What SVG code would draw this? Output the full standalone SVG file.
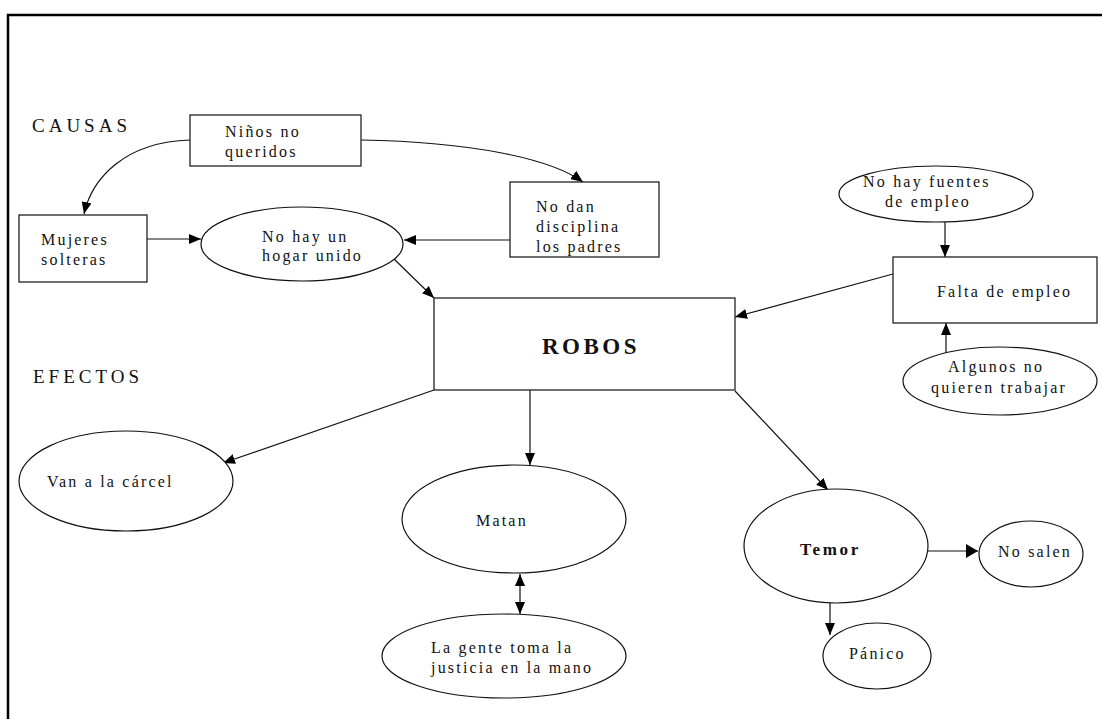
<svg xmlns="http://www.w3.org/2000/svg" width="1102" height="719" viewBox="0 0 1102 719">
  <style>
    .box { fill: #fff; stroke: #222; stroke-width: 1.3; }
    .oval { fill: #fff; stroke: #111; stroke-width: 1.2; }
    .lbl { font-family: "Liberation Serif", "Times New Roman", serif; font-size: 16px; letter-spacing: 2.2px; fill: #111; }
    .bold { font-weight: bold; }
    .head { font-family: "Liberation Serif", "Times New Roman", serif; font-size: 19px; letter-spacing: 4px; fill: #111; }
    .link { fill: none; stroke: #111; stroke-width: 1.2; }
  </style>
  <defs>
    <marker id="arrow" viewBox="0 0 12 10" refX="12" refY="5" markerWidth="12" markerHeight="10" markerUnits="userSpaceOnUse" orient="auto-start-reverse">
      <path d="M0,0 L12,5 L0,10 z" fill="#000"/>
    </marker>
    <marker id="arrowBig" viewBox="0 0 12 14" refX="12" refY="7" markerWidth="12" markerHeight="16" markerUnits="userSpaceOnUse" orient="auto">
      <path d="M0,0 L12,7 L0,14 z" fill="#000"/>
    </marker>
  </defs>
  <rect width="1102" height="719" fill="#fff"/>

  <!-- page frame -->
  <path d="M8,719 L8,15 L1102,15" fill="none" stroke="#000" stroke-width="2.5"/>

  <!-- section headings -->
  <text class="head" x="32" y="132">CAUSAS</text>
  <text class="head" x="33" y="383">EFECTOS</text>

  <!-- connectors -->
  <g id="connectors">
    <path class="link" d="M190,140 C125,142 92,178 84,214" marker-end="url(#arrow)"/>
    <path class="link" d="M361,140 C470,142 550,158 583,182" marker-end="url(#arrow)"/>
    <path class="link" d="M147,239 L201,239" marker-end="url(#arrow)"/>
    <path class="link" d="M510,240 L404,240" marker-end="url(#arrow)"/>
    <path class="link" d="M392,257 L434,298" marker-end="url(#arrow)"/>
    <path class="link" d="M945,222 L945,257" marker-end="url(#arrow)"/>
    <path class="link" d="M946,355 L946,323" marker-end="url(#arrow)"/>
    <path class="link" d="M893,274 L735,317" marker-end="url(#arrow)"/>
    <path class="link" d="M434,390 L223,463" marker-end="url(#arrow)"/>
    <path class="link" d="M530,390 L530,465" marker-end="url(#arrow)"/>
    <path class="link" d="M520,574 L520,614" marker-start="url(#arrow)" marker-end="url(#arrow)"/>
    <path class="link" d="M735,391 L828,490" marker-end="url(#arrow)"/>
    <path class="link" d="M928,551 L978,551" marker-end="url(#arrowBig)"/>
    <path class="link" d="M830,603 L830,635" marker-end="url(#arrow)"/>
  </g>

  <!-- causes -->
  <g id="ninos">
    <rect class="box" x="190" y="115" width="171" height="51"/>
    <text class="lbl" x="225" y="137">Niños no</text>
    <text class="lbl" x="225" y="157">queridos</text>
  </g>
  <g id="mujeres">
    <rect class="box" x="19" y="215" width="128" height="67"/>
    <text class="lbl" x="41" y="245">Mujeres</text>
    <text class="lbl" x="41" y="265">solteras</text>
  </g>
  <g id="hogar">
    <ellipse class="oval" cx="302" cy="244" rx="101" ry="37"/>
    <text class="lbl" x="262" y="242">No hay un</text>
    <text class="lbl" x="262" y="261">hogar unido</text>
  </g>
  <g id="disciplina">
    <rect class="box" x="510" y="182" width="149" height="75"/>
    <text class="lbl" x="536" y="212">No dan</text>
    <text class="lbl" x="536" y="232">disciplina</text>
    <text class="lbl" x="536" y="252">los padres</text>
  </g>
  <g id="fuentes">
    <ellipse class="oval" cx="936" cy="194" rx="97" ry="28"/>
    <text class="lbl" x="863" y="187">No hay fuentes</text>
    <text class="lbl" x="885" y="207">de empleo</text>
  </g>
  <g id="falta">
    <rect class="box" x="893" y="257" width="204" height="66"/>
    <text class="lbl" x="937" y="297">Falta de empleo</text>
  </g>
  <g id="algunos">
    <ellipse class="oval" cx="1000" cy="381" rx="97" ry="34"/>
    <text class="lbl" x="948" y="372">Algunos no</text>
    <text class="lbl" x="931" y="393">quieren trabajar</text>
  </g>

  <!-- central problem -->
  <g id="robos">
    <rect class="box" x="434" y="298" width="301" height="92"/>
    <text class="lbl bold" x="542" y="354" style="font-size:23px;letter-spacing:3.5px">ROBOS</text>
  </g>

  <!-- effects -->
  <g id="carcel">
    <ellipse class="oval" cx="126" cy="481" rx="107" ry="50"/>
    <text class="lbl" x="47" y="487">Van a la cárcel</text>
  </g>
  <g id="matan">
    <ellipse class="oval" cx="514" cy="519" rx="112" ry="54"/>
    <text class="lbl" x="476" y="526">Matan</text>
  </g>
  <g id="justicia">
    <ellipse class="oval" cx="504" cy="656" rx="122" ry="42"/>
    <text class="lbl" x="431" y="653">La gente toma la</text>
    <text class="lbl" x="431" y="673">justicia en la mano</text>
  </g>
  <g id="temor">
    <ellipse class="oval" cx="836" cy="546" rx="92" ry="57"/>
    <text class="lbl bold" x="800" y="555" style="font-size:17px;letter-spacing:2.7px">Temor</text>
  </g>
  <g id="nosalen">
    <ellipse class="oval" cx="1031" cy="554" rx="52" ry="33"/>
    <text class="lbl" x="998" y="557">No salen</text>
  </g>
  <g id="panico">
    <ellipse class="oval" cx="877" cy="656" rx="54" ry="33"/>
    <text class="lbl" x="849" y="659">Pánico</text>
  </g>
</svg>
